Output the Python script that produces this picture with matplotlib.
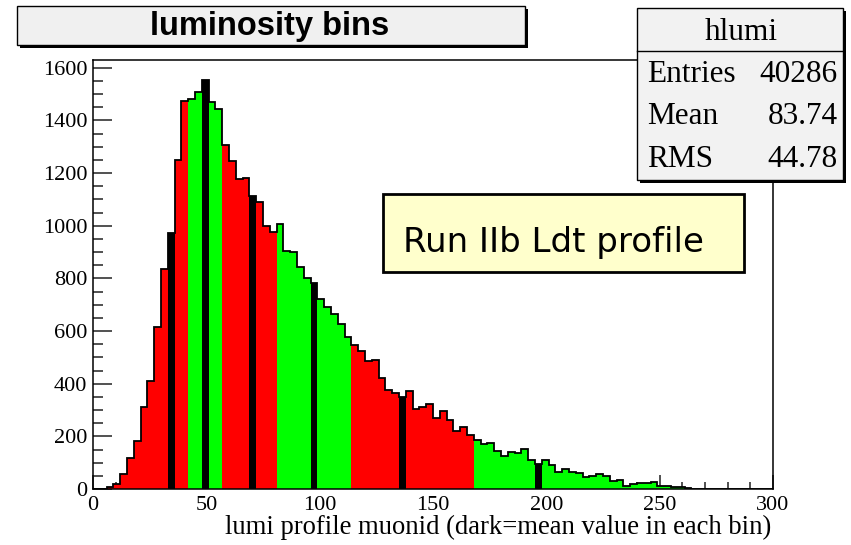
import matplotlib
matplotlib.use("Agg")
import matplotlib.pyplot as plt
from matplotlib.patches import Rectangle
import numpy as np

# ---------------- data ----------------
bin_width = 3
x_min, x_max = 0, 300
counts = [0, 0, 6, 19, 57, 118, 184, 312, 409, 614,
          835, 973, 1248, 1473, 1481, 1507, 1554, 1469, 1444, 1307,
          1245, 1177, 1182, 1115, 1092, 1001, 975, 1007, 905, 899,
          845, 800, 783, 722, 690, 665, 627, 576, 548, 523,
          485, 491, 420, 377, 363, 348, 374, 303, 310, 323,
          270, 298, 262, 222, 234, 206, 187, 171, 175, 143,
          124, 139, 135, 152, 111, 95, 110, 91, 66, 76,
          66, 61, 47, 48, 57, 50, 32, 34, 13, 19,
          21, 23, 28, 13, 10, 6, 9, 2, 1, 1,
          0, 0, 0, 0, 0, 0, 0, 0, 0, 0]
segment_edges = [0, 42, 57, 81, 114, 168, 300]
segment_colors = ["#ff0000", "#00ff00", "#ff0000", "#00ff00", "#ff0000", "#00ff00"]
mean_bin_left = [33, 48, 69, 96, 135, 195]

title_text = "luminosity bins"
stats_name = "hlumi"
stats_labels = ["Entries", "Mean", "RMS"]
stats_values = ["40286", "83.74", "44.78"]
note_text = "Run IIb Ldt profile"
xlabel_text = "lumi profile muonid (dark=mean value in each bin)"

# ---------------- figure ----------------
W, H = 851, 545
fig = plt.figure(figsize=(W / 100, H / 100), dpi=100)
fig.patch.set_facecolor("white")

def fx(px):
    return px / W

def fy(py):
    return 1 - py / H

ax_l, ax_r, ax_t, ax_b = 93, 773, 59.5, 489
ax = fig.add_axes([fx(ax_l), fy(ax_b), (ax_r - ax_l) / W, (ax_b - ax_t) / H])

edges = np.arange(x_min, x_max + bin_width, bin_width)
lefts = edges[:-1]
colors = []
for left in lefts:
    c = segment_colors[-1]
    for i in range(len(segment_colors)):
        if segment_edges[i] <= left < segment_edges[i + 1]:
            c = segment_colors[i]
            break
    if left in mean_bin_left:
        c = "#000000"
    colors.append(c)

ax.bar(lefts, counts, width=bin_width, align="edge", color=colors, linewidth=0, zorder=1)
ax.stairs(counts, edges, color="black", linewidth=1.3, zorder=2)

ymax = max(counts) * 1.05
ax.set_xlim(x_min, x_max)
ax.set_ylim(0, ymax)
ax.set_axisbelow(True)

ax.set_xticks(np.arange(0, 301, 50))
ax.set_xticks(np.arange(0, 301, 10), minor=True)
ax.set_yticks(np.arange(0, 1601, 200))
ax.set_yticks(np.arange(0, 1601, 50), minor=True)

ax.tick_params(axis="both", which="both", direction="in", top=False, right=False,
               color="#333333", width=1.2)
ax.tick_params(axis="x", which="major", length=10, pad=5)
ax.tick_params(axis="x", which="minor", length=5)
ax.tick_params(axis="y", which="major", length=13.5, pad=4)
ax.tick_params(axis="y", which="minor", length=7)
for lab in ax.get_xticklabels() + ax.get_yticklabels():
    lab.set_fontfamily("Liberation Serif")
    lab.set_fontsize(16)
for s in ax.spines.values():
    s.set_linewidth(1.1)
    s.set_color("black")

fig.text(fx(771), fy(527), xlabel_text, ha="right", va="center",
         fontfamily="Liberation Serif", fontsize=19.2)

# ---------------- boxes ----------------
def box(x0, y0, x1, y1, face, shadow=3, lw=1.0):
    if shadow:
        fig.add_artist(Rectangle((fx(x0 + shadow), fy(y1 + shadow)), (x1 - x0) / W, (y1 - y0) / H,
                                 transform=fig.transFigure, facecolor="black",
                                 edgecolor="none", zorder=10))
    fig.add_artist(Rectangle((fx(x0), fy(y1)), (x1 - x0) / W, (y1 - y0) / H,
                             transform=fig.transFigure, facecolor=face,
                             edgecolor="black", linewidth=lw, zorder=11))

box(17, 6, 525, 45, "#f0f0f0", shadow=3)
fig.text(fx(270), fy(26), title_text, ha="center", va="center",
         fontfamily="Liberation Sans", fontweight="bold", fontsize=23.5, zorder=12)

box(637, 8, 843, 180, "#f2f2f2", shadow=3)
fig.add_artist(plt.Line2D([fx(637), fx(843)], [fy(51), fy(51)], transform=fig.transFigure,
                          color="black", linewidth=1.0, zorder=12))
fig.text(fx(741), fy(33), stats_name, ha="center", va="center",
         fontfamily="Liberation Serif", fontsize=22.5, zorder=12)
row_y = [74, 117, 159]
for lab, val, yy in zip(stats_labels, stats_values, row_y):
    fig.text(fx(647), fy(yy), lab, ha="left", va="center",
             fontfamily="Liberation Serif", fontsize=22.5, zorder=12)
    fig.text(fx(838), fy(yy), val, ha="right", va="center",
             fontfamily="Liberation Serif", fontsize=22.5, zorder=12)

box(383, 194, 744, 272, "#ffffcc", shadow=0, lw=2.0)
fig.text(fx(403), fy(251.5), note_text, ha="left", va="baseline",
         fontfamily="DejaVu Sans", fontsize=24.5, zorder=12)

fig.savefig("out.png", dpi=100)
